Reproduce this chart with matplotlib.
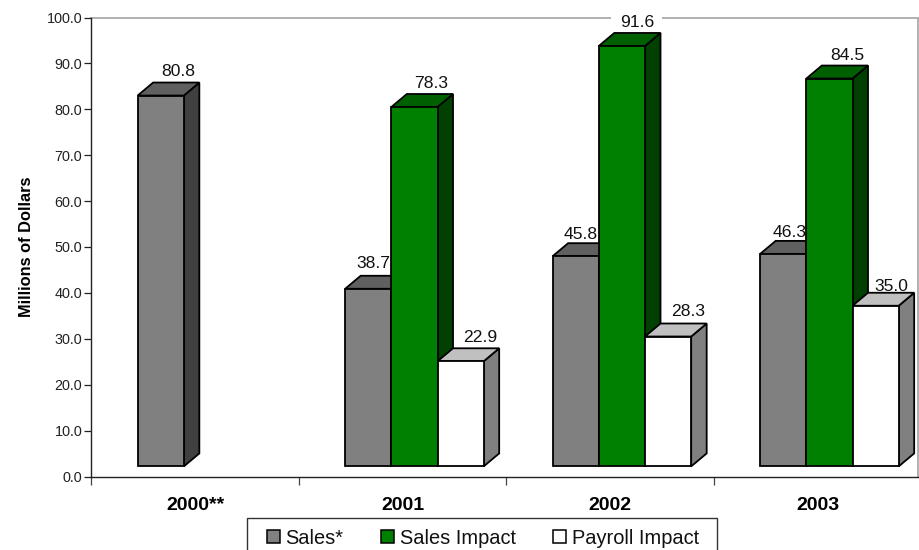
import matplotlib
matplotlib.use("Agg")
import matplotlib.pyplot as plt
from matplotlib.patches import Polygon, Patch, Rectangle

plt.rcParams['font.family'] = ['Liberation Sans', 'DejaVu Sans']

categories = ['2000**', '2001', '2002', '2003']
sales = [80.8, 38.7, 45.8, 46.3]
sales_impact = [None, 78.3, 91.6, 84.5]
payroll_impact = [None, 22.9, 28.3, 35.0]
series_names = ['Sales*', 'Sales Impact', 'Payroll Impact']
y_ticks = [0, 10, 20, 30, 40, 50, 60, 70, 80, 90, 100]

front_colors = ['#808080', '#008000', '#ffffff']
top_colors = ['#606060', '#006000', '#c0c0c0']
side_colors = ['#404040', '#004000', '#808080']

# label nudges from the bar's centre / back-top edge, in pixels (series, category)
label_dx = [[17, 5, 5, 6], [0, 17, 15, 17.5], [0, 19.5, 20.5, 16]]
label_dy = [[7, 8, 4, 4], [0, 6, 6, 6], [0, 6, 8, 2]]

W, H = 920, 550
fig = plt.figure(figsize=(W / 100, H / 100), dpi=100, facecolor='white')
ax = fig.add_axes([91.5 / W, (H - 476.5) / H, 830 / W, 459 / H], clip_on=False)
ax.set_xlim(0, 4)
ax.set_ylim(0, 100)
ax.patch.set_visible(False)

bar_w = 0.2225
dx = 15.5 / 207.5
dy = 13 / 4.59
base = 2.2
edge = dict(edgecolor='black', linewidth=1.3)
px = 72 / 100

for s, values in enumerate([sales, sales_impact, payroll_impact]):
    z_label, z_bar = 3 + 4 * s, 4 + 4 * s
    for c, v in enumerate(values):
        if v is None:
            continue
        left = c + bar_w * (s + 1)
        right = left + bar_w
        top = v + base
        ax.bar(left, v, bar_w, bottom=base, align='edge', color=front_colors[s],
               zorder=z_bar + 2, **edge)
        ax.add_patch(Polygon([(right, base), (right + dx, base + dy),
                              (right + dx, top + dy), (right, top)],
                             closed=True, facecolor=side_colors[s], zorder=z_bar, **edge))
        ax.add_patch(Polygon([(left, top), (left + dx, top + dy),
                              (right + dx, top + dy), (right, top)],
                             closed=True, facecolor=top_colors[s], zorder=z_bar + 1, **edge))
        # only a label reaching the plot-area border masks it
        mask = dict(facecolor='white', edgecolor='none', pad=6) if top + dy > 95 else None
        ax.annotate(f'{v:.1f}', xy=(left + bar_w / 2, top + dy),
                    xytext=(label_dx[s][c] * px, label_dy[s][c] * px),
                    textcoords='offset points', ha='center',
                    va='baseline', fontsize=12.6, color='#111111', zorder=z_label,
                    bbox=mask)

# plot-area border (grey top and right)
frame_right = 3.985
ax.plot([0, frame_right, frame_right], [100, 100, 0], color='#aaaaaa', lw=1.3,
        zorder=1, clip_on=False, solid_joinstyle='miter')

for side in ('top', 'right'):
    ax.spines[side].set_visible(False)
for side in ('left', 'bottom'):
    ax.spines[side].set_color('#222222')
    ax.spines[side].set_linewidth(1.0)

ax.set_yticks(y_ticks)
ax.set_yticklabels([f'{t:.1f}' for t in y_ticks], fontsize=10.4, color='#222222')
ax.tick_params(axis='y', length=5.2, width=0.9, color='#222222', pad=1.5)

ax.set_xticks(range(4))
ax.set_xticklabels([])
ax.tick_params(axis='x', which='major', length=5.5, width=0.9, color='#444444')
ax.set_xticks([c + 0.5 for c in range(4)], minor=True)
ax.set_xticklabels(categories, minor=True, fontsize=14, fontweight='bold', color='black')
ax.tick_params(axis='x', which='minor', length=0, pad=14.5)

ax.set_ylabel('Millions of Dollars', fontsize=11.8, fontweight='bold', va='center')
ax.yaxis.set_label_coords((27 - 91.5) / 830, 0.5)

# legend frame, running past the bottom of the figure
fig.add_artist(Rectangle((247 / W, -8 / H), 470 / W, (H - 518 + 8) / H,
                         transform=fig.transFigure, facecolor='white',
                         edgecolor='#333333', linewidth=1.0))
handles = [Patch(facecolor=f, edgecolor='black', linewidth=1.1, label=n)
           for f, n in zip(front_colors, series_names)]
fig.legend(handles=handles, ncols=3, loc='center left',
           bbox_to_anchor=(266.5 / W, 1 - 538 / H), frameon=False, fontsize=14.4,
           borderpad=0, borderaxespad=0, handlelength=0.65, handleheight=0.65,
           handletextpad=0.3, columnspacing=1.85, labelcolor='#111111')

fig.savefig('out.png', dpi=100, facecolor='white')
